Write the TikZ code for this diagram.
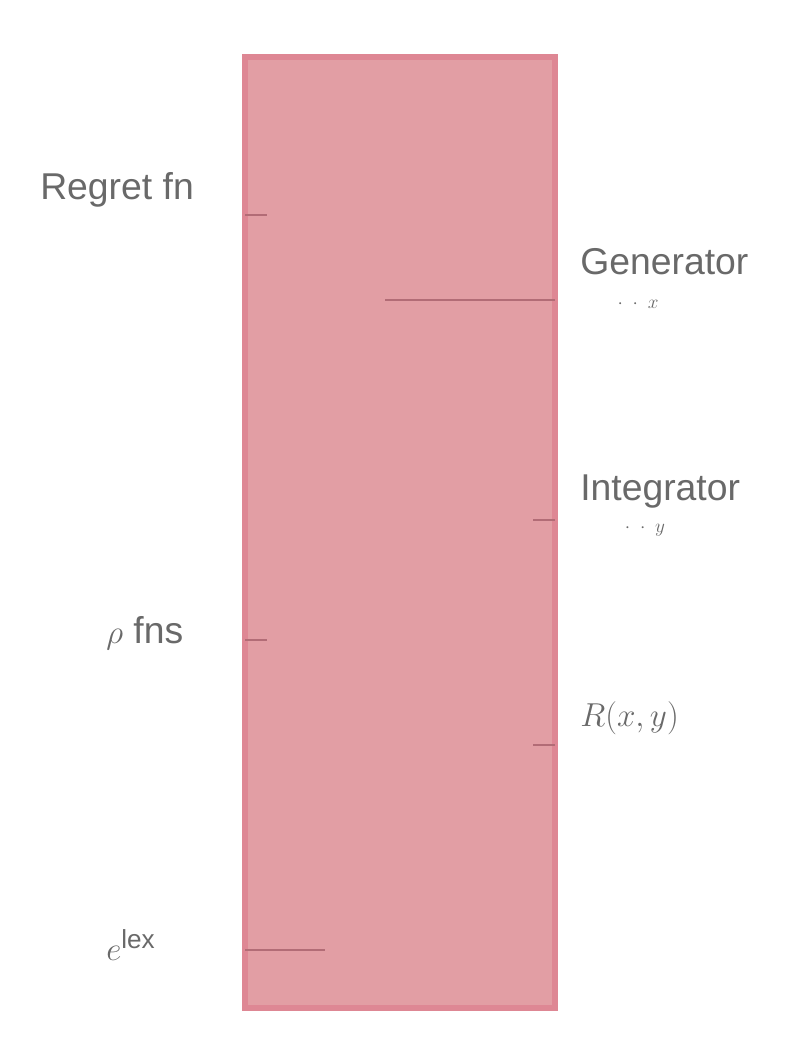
\documentclass[tikz,border=0pt]{standalone}
\usepackage{fontspec}
\setmainfont{Liberation Sans}
\begin{document}
\begin{tikzpicture}[x=0.75pt,y=-0.75pt]
\definecolor{boxfill}{RGB}{226,158,164}
\definecolor{boxedge}{RGB}{222,135,148}
\definecolor{lbl}{RGB}{105,105,105}
\tikzset{
  lab/.style={text=lbl,font=\fontsize{28}{32}\selectfont,inner sep=0pt},
  sublab/.style={text=lbl,font=\fontsize{15}{17}\selectfont,inner sep=0pt},
  pin/.style={draw=boxedge!80!black,line width=2pt}
}
\useasboundingbox (0,0) rectangle (800,1053);
\path[draw=boxedge,line width=4pt,fill=boxfill] (245,57) rectangle (555,1008);
\coordinate (L1) at (245,215);
\coordinate (L2) at (245,640);
\coordinate (L3) at (245,950);
\coordinate (R1) at (555,300);
\coordinate (R2) at (555,520);
\coordinate (R3) at (555,745);
\draw[pin] (L1) -- ++(22,0);
\draw[pin] (L2) -- ++(22,0);
\draw[pin] (L3) -- ++(80,0);
\draw[pin] (R1) -- ++(-170,0);
\draw[pin] (R2) -- ++(-22,0);
\draw[pin] (R3) -- ++(-22,0);
\node[lab,anchor=west] (t1) at (40,190) {Regret fn};
\node[lab,anchor=west] (t2) at (106,633) {$\rho$ fns};
\node[lab,anchor=west] (t3) at (106,945) {$e^{\mathrm{lex}}$};
\node[lab,anchor=west] (t4) at (580,262) {Generator};
\node[sublab] (s4) at (638,304) {$\cdot\ \cdot\ x$};
\node[lab,anchor=west] (t5) at (580,492) {Integrator};
\node[sublab] (s5) at (645,530) {$\cdot\ \cdot\ y$};
\node[lab,anchor=west] (t6) at (580,718) {$R(x,y)$};
\end{tikzpicture}
\end{document}
